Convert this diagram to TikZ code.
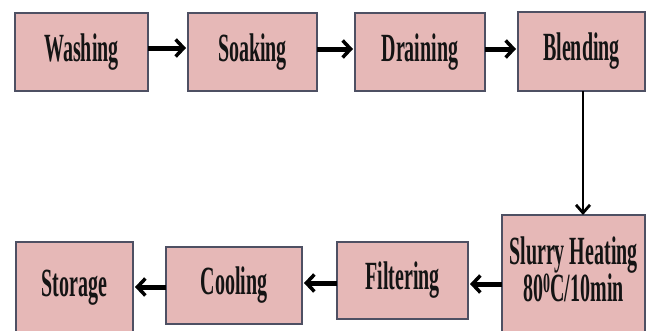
\documentclass[tikz,border=0pt]{standalone}
\usepackage{fontspec}
\setmainfont{Liberation Serif}
\usetikzlibrary{arrows.meta}
\definecolor{boxfill}{HTML}{E6B8B7}
\definecolor{boxline}{HTML}{4E5063}
\newcommand{\sqz}[1]{\scalebox{0.5}[1]{\fontsize{40}{32}\selectfont\bfseries #1}}
\tikzset{
  procbox/.style={draw=boxline, fill=boxfill, line width=2pt, inner sep=0pt, outer sep=0pt, text=black!92},
  harrow/.style={line width=5pt, -{Straight Barb[length=8pt,width=17pt,line width=3.5pt]}},
  varrow/.style={line width=2.2pt, -{Straight Barb[length=8pt,width=14pt,line width=2.8pt]}}
}
\begin{document}
\begin{tikzpicture}[x=1pt,y=-1pt]
\useasboundingbox (0,0) rectangle (652,330);
\clip (0,0) rectangle (652,330);
\fill[white] (0,0) rectangle (652,330);
% top row
\node[procbox, minimum width=133pt, minimum height=78pt] (wash) at (81.5,52) {\sqz{Washing}};
\node[procbox, minimum width=129pt, minimum height=78pt] (soak) at (252.5,52) {\sqz{Soaking}};
\node[procbox, minimum width=130pt, minimum height=78pt] (drain) at (420,52) {\sqz{Draining}};
\node[procbox, minimum width=127pt, minimum height=79pt] (blend) at (581.5,51.5) {\sqz{Blending}};
% bottom row
\node[procbox, minimum width=143pt, minimum height=118pt] (slurry) at (573.5,274) {\sqz{\begin{tabular}{@{}c@{}}Slurry Heating\\80\textsuperscript{0}C/10min\end{tabular}}};
\node[procbox, minimum width=131pt, minimum height=77pt] (filter) at (402.5,280.5) {\sqz{Filtering}};
\node[procbox, minimum width=136pt, minimum height=77pt] (cool) at (234,285.5) {\sqz{Cooling}};
\node[procbox, minimum width=117pt, minimum height=92pt] (store) at (74.5,288) {\sqz{Storage}};
% arrows
\draw[harrow] (wash.east |- 0,48) -- ([xshift=-2pt]soak.west |- 0,48);
\draw[harrow] (soak.east |- 0,49) -- ([xshift=-2pt]drain.west |- 0,49);
\draw[harrow] (drain.east |- 0,49) -- ([xshift=-2pt]blend.west |- 0,49);
\draw[varrow] (blend.south -| 583,0) -- (slurry.north -| 583,0);
\draw[harrow] (slurry.west |- 0,284) -- ([xshift=2pt]filter.east |- 0,284);
\draw[harrow] (filter.west |- 0,283) -- ([xshift=2pt]cool.east |- 0,283);
\draw[harrow] (cool.west |- 0,287) -- ([xshift=2pt]store.east |- 0,287);
\end{tikzpicture}
\end{document}
